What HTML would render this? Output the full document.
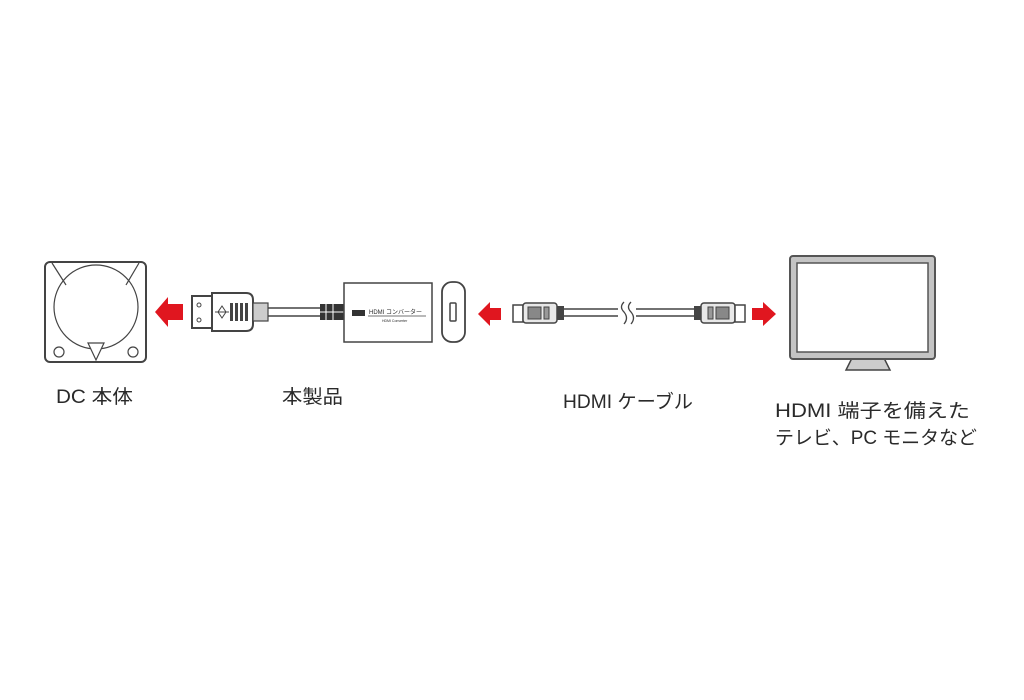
<!DOCTYPE html>
<html><head><meta charset="utf-8"><style>
html,body{margin:0;padding:0;background:#fff;}
svg{display:block}
text{font-family:"Liberation Sans","Noto Sans CJK JP",sans-serif;fill:#2a2a2a;font-size:19px}
</style></head><body>
<svg width="1024" height="700" viewBox="0 0 1024 700" xmlns="http://www.w3.org/2000/svg">
<rect width="1024" height="700" fill="#fff"/>
<g stroke="#444" fill="#fff" stroke-width="1.5">
<rect x="45" y="262" width="101" height="100" rx="5" stroke-width="2"/>
<circle cx="96" cy="307" r="42" stroke-width="1.2"/>
<line x1="52" y1="263" x2="66" y2="285" stroke-width="1.2"/>
<line x1="139" y1="263" x2="126" y2="285" stroke-width="1.2"/>
<circle cx="59" cy="352" r="5" stroke-width="1.2"/>
<circle cx="133" cy="352" r="5" stroke-width="1.2"/>
<path d="M88 343 L104 343 L96 360 Z" stroke-width="1.2"/>
<rect x="192" y="296" width="22" height="32" stroke-width="2"/>
<circle cx="199" cy="305" r="2" stroke-width="1"/>
<circle cx="199" cy="320" r="2" stroke-width="1"/>
<path d="M212 293 L246 293 Q253 293 253 300 L253 324 Q253 331 246 331 L212 331 Z" stroke-width="2"/>
<path d="M218 312 L222 306 L226 312 L222 318 Z" stroke-width="1"/>
<line x1="215" y1="312" x2="229" y2="312" stroke-width="1"/>
<rect x="230" y="303" width="3" height="18" fill="#444" stroke="none"/>
<rect x="235" y="303" width="3" height="18" fill="#444" stroke="none"/>
<rect x="240" y="303" width="3" height="18" fill="#444" stroke="none"/>
<rect x="245" y="303" width="3" height="18" fill="#444" stroke="none"/>
<rect x="253" y="303" width="15" height="18" fill="#ccc" stroke-width="1.2"/>
<line x1="268" y1="308" x2="322" y2="308" stroke-width="1.5"/>
<line x1="268" y1="316" x2="322" y2="316" stroke-width="1.5"/>
<rect x="320" y="304" width="24" height="16" fill="#333" stroke="none"/>
<line x1="326" y1="304" x2="326" y2="320" stroke="#fff" stroke-width="1"/>
<line x1="333" y1="304" x2="333" y2="320" stroke="#fff" stroke-width="1"/>
<line x1="320" y1="312" x2="344" y2="312" stroke="#fff" stroke-width="1"/>
<rect x="344" y="283" width="88" height="59" stroke-width="1.5"/>
<rect x="352" y="310" width="13" height="6" fill="#333" stroke="none"/>
<line x1="368" y1="316" x2="426" y2="316" stroke-width="0.8"/>
<rect x="442" y="282" width="23" height="60" rx="10" stroke-width="1.8"/>
<rect x="450" y="303" width="6" height="18" rx="1" fill="#fff" stroke-width="1.5"/>
<rect x="513" y="305" width="10" height="17" stroke-width="1.5"/>
<rect x="523" y="303" width="34" height="20" rx="3" fill="#e8e8e8" stroke-width="1.5"/>
<rect x="528" y="307" width="13" height="12" fill="#888" stroke-width="1"/>
<rect x="544" y="307" width="5" height="12" fill="#999" stroke-width="1"/>
<rect x="557" y="306" width="7" height="14" fill="#444" stroke="none"/>
<line x1="564" y1="309" x2="618" y2="309"/>
<line x1="564" y1="316" x2="618" y2="316"/>
<line x1="636" y1="309" x2="694" y2="309"/>
<line x1="636" y1="316" x2="694" y2="316"/>
<path d="M624 302 Q619 307 624 312 Q629 318 624 324" fill="none" stroke-width="1.3"/>
<path d="M631 302 Q626 307 631 312 Q636 318 631 324" fill="none" stroke-width="1.3"/>
<rect x="694" y="306" width="7" height="14" fill="#444" stroke="none"/>
<rect x="701" y="303" width="34" height="20" rx="3" fill="#e8e8e8" stroke-width="1.5"/>
<rect x="708" y="307" width="5" height="12" fill="#999" stroke-width="1"/>
<rect x="716" y="307" width="13" height="12" fill="#888" stroke-width="1"/>
<rect x="735" y="305" width="10" height="17" stroke-width="1.5"/>
<path d="M852 358 L884 358 L890 370 L846 370 Z" fill="#ccc" stroke-width="1.5"/>
<rect x="790" y="256" width="145" height="103" rx="3" fill="#c4c4c4" stroke="#555" stroke-width="2"/>
<rect x="797" y="263" width="131" height="89" fill="#fff" stroke="#555" stroke-width="1.5"/>
</g>
<g fill="#e0161f">
<path d="M155 312 L168 297 L168 304 L183 304 L183 320 L168 320 L168 327 Z"/>
<path d="M478 314 L490 302 L490 308 L501 308 L501 320 L490 320 L490 326 Z"/>
<path d="M776 314 L763 302 L763 308 L752 308 L752 320 L763 320 L763 326 Z"/>
</g>
<text x="369" y="314" style="font-size:6px">HDMI コンバーター</text>
<text x="382" y="322" style="font-size:3.5px">HDMI Converter</text>
<text x="56" y="403" textLength="77" lengthAdjust="spacingAndGlyphs">DC 本体</text>
<text x="282" y="403" textLength="61" lengthAdjust="spacingAndGlyphs">本製品</text>
<text x="563" y="408" textLength="130" lengthAdjust="spacingAndGlyphs">HDMI ケーブル</text>
<text x="775" y="417" textLength="195" lengthAdjust="spacingAndGlyphs">HDMI 端子を備えた</text>
<text x="775" y="444" textLength="202" lengthAdjust="spacingAndGlyphs">テレビ、PC モニタなど</text>
</svg>
</body></html>
